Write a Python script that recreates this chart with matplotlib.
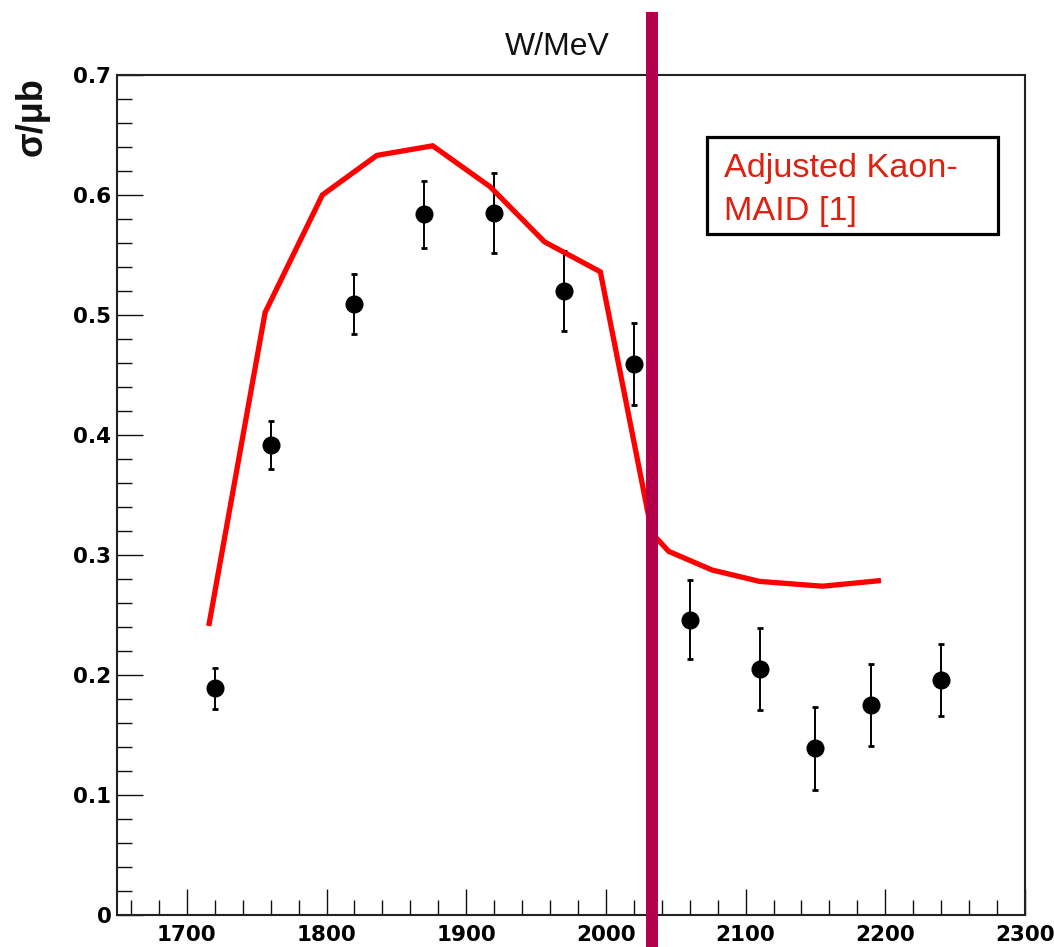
import matplotlib
matplotlib.use("Agg")
import matplotlib.pyplot as plt
from matplotlib.patches import Rectangle
from matplotlib.ticker import MultipleLocator
import matplotlib.transforms as mtransforms

# Measured cross section vs. centre-of-mass energy
w_data = [1720, 1760, 1820, 1870, 1920, 1970, 2020, 2060, 2110, 2150, 2190, 2240]
sigma_data = [0.189, 0.392, 0.509, 0.584, 0.585, 0.520, 0.459, 0.246, 0.205, 0.139, 0.175, 0.196]
sigma_err = [0.017, 0.020, 0.025, 0.028, 0.033, 0.033, 0.034, 0.033, 0.034, 0.0345, 0.034, 0.030]

# Model curve (adjusted Kaon-MAID)
w_model = [1716, 1756, 1797, 1836, 1876, 1917, 1956, 1996, 2033, 2045, 2076, 2110, 2155, 2195]
sigma_model = [0.243, 0.502, 0.600, 0.633, 0.641, 0.607, 0.561, 0.536, 0.318, 0.303,
               0.2875, 0.278, 0.274, 0.2785]

# Energy marked by the vertical divider
w_divider = 2033

x_range = (1650, 2300)
y_range = (0, 0.7)

W, H = 1054, 947
fig = plt.figure(figsize=(W / 100, H / 100), dpi=100)
ax = fig.add_axes([117 / W, (H - 915) / H, (1025 - 117) / W, (915 - 75) / H])

ax.errorbar(w_data, sigma_data, yerr=sigma_err, fmt="o", color="black",
            markersize=12, elinewidth=1.4, capsize=2.2, capthick=2.0, zorder=3)
ax.plot(w_model, sigma_model, color="#ff0000", lw=3.8, solid_joinstyle="miter", zorder=4)

ax.set_xlim(*x_range)
ax.set_ylim(*y_range)
ax.xaxis.set_major_locator(MultipleLocator(100))
ax.xaxis.set_minor_locator(MultipleLocator(20))
ax.yaxis.set_major_locator(MultipleLocator(0.1))
ax.yaxis.set_minor_locator(MultipleLocator(0.02))
ax.yaxis.set_major_formatter(plt.FuncFormatter(lambda v, p: "0" if abs(v) < 1e-9 else f"{v:.1f}"))

ax.tick_params(which="both", direction="in", top=False, right=False, color="#111111", width=1.0)
ax.tick_params(which="major", length=19)
ax.tick_params(which="minor", length=10.5)
ax.tick_params(axis="x", which="major", pad=7)
ax.tick_params(axis="y", which="major", pad=4)
for lab in ax.get_xticklabels() + ax.get_yticklabels():
    lab.set_fontfamily("DejaVu Sans")
    lab.set_fontweight("bold")
    lab.set_fontsize(15.5)

for s in ax.spines.values():
    s.set_linewidth(1.5)
    s.set_color("#222222")

# Axis titles
fig.text(557.5 / W, (H - 55) / H, "W/MeV", family="Liberation Sans", fontsize=23,
         ha="center", va="baseline", color="#111111")
fig.text(32 / W, (H - 117) / H, "σ/μb", family="Liberation Sans", fontsize=26,
         fontweight="bold", rotation=90, ha="center", va="center", color="#111111")

# Model label box
ax.add_patch(Rectangle((0.650, 0.8107), 0.320, 0.1158, transform=ax.transAxes,
                       fill=True, facecolor="white", edgecolor="black", lw=2.3, zorder=5))
ax.text(0.669, 0.879, "Adjusted Kaon-", transform=ax.transAxes, family="Liberation Sans",
        fontsize=24.7, color="#dd2211", ha="left", va="baseline", zorder=6)
ax.text(0.669, 0.8274, "MAID [1]", transform=ax.transAxes, family="Liberation Sans",
        fontsize=24.7, color="#dd2211", ha="left", va="baseline", zorder=6)

# Vertical divider spanning beyond the frame
blend = mtransforms.blended_transform_factory(ax.transData, ax.transAxes)
ax.plot([w_divider, w_divider], [-0.06, (915 - 12) / 840], transform=blend,
        color="#b4004b", lw=8.6, solid_capstyle="butt", clip_on=False, zorder=10)

fig.savefig("out.png", dpi=100)
